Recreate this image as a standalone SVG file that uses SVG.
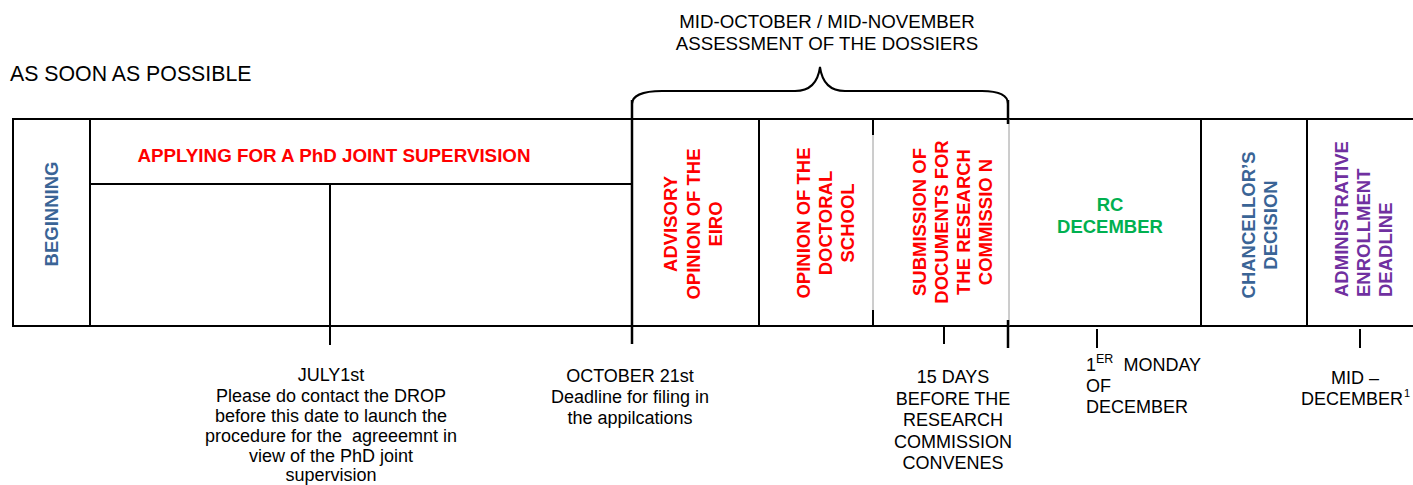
<svg xmlns="http://www.w3.org/2000/svg" width="1413" height="485" viewBox="0 0 1413 485">
<style>
.ln{stroke:#000;stroke-width:2;fill:none}
.thk{stroke:#000;stroke-width:2.5;fill:none}
.thin{stroke:#9a9a9a;stroke-width:1;fill:none}
.t{font-family:"Liberation Sans",Arial,sans-serif;font-size:18px;fill:#000}
.b{font-family:"Liberation Sans",Arial,sans-serif;font-size:18.5px;font-weight:bold}
.red{fill:#ff0000}.blue{fill:#3a6496}.green{fill:#00b050}.purple{fill:#7030a0}
.c{text-anchor:middle}
</style>
<rect width="1413" height="485" fill="#fff"/>
<g id="connectors">
<line class="ln" x1="13" y1="119" x2="1413" y2="119"/>
<line class="ln" x1="13" y1="326" x2="1413" y2="326"/>
<line class="ln" x1="13" y1="118" x2="13" y2="327"/>
<line class="ln" x1="90" y1="119" x2="90" y2="326"/>
<line class="ln" x1="90" y1="184" x2="632" y2="184"/>
<line class="ln" x1="330" y1="184" x2="330" y2="345"/>
<line class="thk" x1="632" y1="100" x2="632" y2="344"/>
<line class="ln" x1="759" y1="119" x2="759" y2="326"/>
<line class="thin" x1="873" y1="119" x2="873" y2="326"/>
<line class="ln" x1="873" y1="119" x2="873" y2="135"/>
<line class="ln" x1="873" y1="310" x2="873" y2="326"/>
<line class="ln" x1="944" y1="326" x2="944" y2="344"/>
<line class="thin" x1="1009" y1="119" x2="1009" y2="326"/>
<line class="thk" x1="1008" y1="100" x2="1008" y2="124"/>
<line class="thk" x1="1008" y1="320" x2="1008" y2="348"/>
<line class="ln" x1="1097" y1="329" x2="1097" y2="348"/>
<line class="ln" x1="1201" y1="119" x2="1201" y2="326"/>
<line class="ln" x1="1307" y1="119" x2="1307" y2="326"/>
<line class="ln" x1="1360" y1="329" x2="1360" y2="348"/>
<path class="ln" d="M632,104 C632,96 642,91 662,91 L795,91 C810,91 818,82 820,67 C822,82 830,91 845,91 L982,91 C1000,91 1008,96 1008,104"/>
</g>
<g id="header">
<text class="t c" x="827" y="28" style="font-size:18.7px">MID-OCTOBER / MID-NOVEMBER</text>
<text class="t c" x="827" y="50" style="font-size:18.7px">ASSESSMENT OF THE DOSSIERS</text>
<text class="t" x="10" y="81" style="font-size:21.3px">AS SOON AS POSSIBLE</text>
</g>
<g id="beginning"><text class="b blue c" transform="translate(58,214) rotate(-90)">BEGINNING</text></g>
<g id="applying"><text class="b red c" x="334" y="162" style="font-size:18.8px">APPLYING FOR A PhD JOINT SUPERVISION</text></g>
<g id="advisory"><text class="b red c" transform="translate(677,224) rotate(-90)"><tspan x="0" y="0">ADVISORY</tspan><tspan x="0" y="22.5">OPINION OF THE</tspan><tspan x="0" y="44.5">EIRO</tspan></text></g>
<g id="doctoral"><text class="b red c" transform="translate(810,223) rotate(-90)"><tspan x="0" y="0">OPINION OF THE</tspan><tspan x="0" y="22">DOCTORAL</tspan><tspan x="0" y="43.5">SCHOOL</tspan></text></g>
<g id="submission"><text class="b red c" transform="translate(926,222) rotate(-90)"><tspan x="0" y="0">SUBMISSION OF</tspan><tspan x="0" y="22">DOCUMENTS FOR</tspan><tspan x="0" y="44">THE RESEARCH</tspan><tspan x="0" y="65.5">COMMISSIO N</tspan></text></g>
<g id="rc"><text class="b green c" x="1110" y="211">RC</text><text class="b green c" x="1110" y="233">DECEMBER</text></g>
<g id="chancellor"><text class="b blue c" transform="translate(1255,225) rotate(-90)"><tspan x="0" y="0">CHANCELLOR’S</tspan><tspan x="0" y="22">DECISION</tspan></text></g>
<g id="enrollment"><text class="b purple" transform="translate(1348,297) rotate(-90)"><tspan x="0" y="0">ADMINISTRATIVE</tspan><tspan x="0" y="22">ENROLLMENT</tspan><tspan x="0" y="44">DEADLINE</tspan></text></g>
<g id="july">
<text class="t c" x="331" y="381">JULY1st</text>
<text class="t c" x="331" y="401.5">Please do contact the DROP</text>
<text class="t c" x="331" y="421.5">before this date to launch the</text>
<text class="t c" x="331" y="441.5">procedure for the&#160; agreeemnt in</text>
<text class="t c" x="331" y="461.5">view of the PhD joint</text>
<text class="t c" x="331" y="481">supervision</text>
</g>
<g id="october">
<text class="t c" x="630" y="382">OCTOBER 21st</text>
<text class="t c" x="630" y="403">Deadline for filing in</text>
<text class="t c" x="630" y="424">the appilcations</text>
</g>
<g id="fifteen">
<text class="t c" x="953" y="383">15 DAYS</text>
<text class="t c" x="953" y="404.5">BEFORE THE</text>
<text class="t c" x="953" y="426">RESEARCH</text>
<text class="t c" x="953" y="447.5">COMMISSION</text>
<text class="t c" x="953" y="469">CONVENES</text>
</g>
<g id="monday">
<text class="t" x="1086" y="371">1<tspan style="font-size:12.5px" dy="-8">ER</tspan><tspan dy="8">&#160; MONDAY</tspan></text>
<text class="t" x="1086" y="392">OF</text>
<text class="t" x="1086" y="413">DECEMBER</text>
</g>
<g id="middec">
<text class="t c" x="1355" y="384">MID –</text>
<text class="t" x="1403" y="405" text-anchor="end">DECEMBER</text>
<text class="t" x="1404" y="397" style="font-size:11px">1</text>
</g>
</svg>
